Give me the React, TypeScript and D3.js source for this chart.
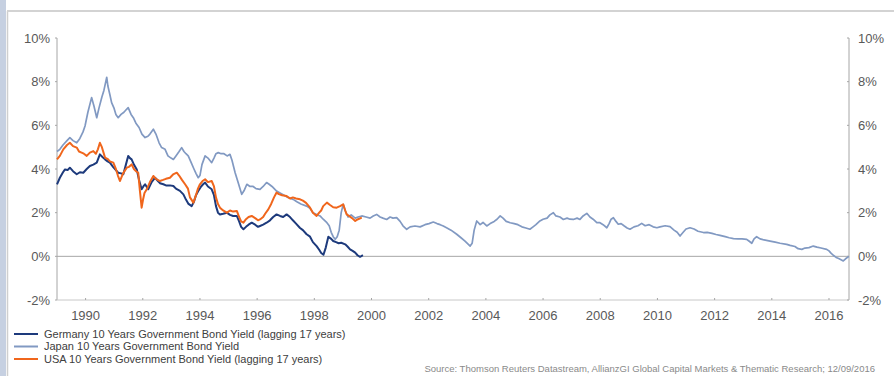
import React from "react";
import * as d3 from "d3";

// Decimal-year / yield (%) pairs for each series
const japanYield: [number, number][] = [
  [1989.0, 4.8], [1989.1, 4.9], [1989.21, 5.1], [1989.35, 5.3], [1989.45, 5.44], [1989.56, 5.3],
  [1989.69, 5.2], [1989.8, 5.4], [1989.91, 5.7], [1989.98, 5.97], [1990.08, 6.6], [1990.21, 7.27],
  [1990.29, 6.9], [1990.39, 6.35], [1990.47, 6.8], [1990.57, 7.3], [1990.64, 7.6], [1990.74, 8.2],
  [1990.78, 7.8], [1990.85, 7.4], [1990.91, 7.04], [1990.99, 6.8], [1991.06, 6.5], [1991.14, 6.35],
  [1991.24, 6.5], [1991.34, 6.6], [1991.41, 6.7], [1991.49, 6.81], [1991.59, 6.5], [1991.67, 6.35],
  [1991.76, 6.1], [1991.87, 5.9], [1991.97, 5.6], [1992.08, 5.44], [1992.18, 5.5], [1992.25, 5.6],
  [1992.37, 5.82], [1992.46, 5.6], [1992.57, 5.2], [1992.66, 4.98], [1992.78, 4.9], [1992.88, 4.6],
  [1992.99, 4.5], [1993.07, 4.44], [1993.16, 4.6], [1993.27, 4.8], [1993.36, 4.98], [1993.44, 4.8],
  [1993.51, 4.7], [1993.59, 4.6], [1993.69, 4.3], [1993.79, 4.0], [1993.86, 3.8], [1993.94, 3.6],
  [1994.0, 3.7], [1994.07, 4.2], [1994.18, 4.6], [1994.28, 4.5], [1994.41, 4.29], [1994.49, 4.5],
  [1994.56, 4.7], [1994.64, 4.75], [1994.74, 4.7], [1994.84, 4.7], [1994.95, 4.6], [1995.05, 4.67],
  [1995.12, 4.4], [1995.23, 3.83], [1995.33, 3.4], [1995.46, 2.84], [1995.54, 3.0], [1995.64, 3.3],
  [1995.75, 3.2], [1995.86, 3.2], [1995.96, 3.1], [1996.1, 3.07], [1996.21, 3.2], [1996.33, 3.38],
  [1996.42, 3.3], [1996.52, 3.2], [1996.68, 2.99], [1996.8, 2.9], [1996.94, 2.8], [1997.08, 2.7],
  [1997.26, 2.61], [1997.39, 2.5], [1997.53, 2.4], [1997.73, 2.3], [1997.85, 2.2], [1997.95, 2.0],
  [1998.08, 1.92], [1998.2, 1.85], [1998.31, 1.7], [1998.44, 1.54], [1998.52, 1.4], [1998.59, 1.1],
  [1998.66, 0.9], [1998.73, 0.78], [1998.8, 0.9], [1998.87, 1.2], [1998.94, 2.0], [1999.01, 2.38],
  [1999.08, 2.1], [1999.18, 1.8], [1999.29, 1.9], [1999.43, 1.75], [1999.53, 1.8], [1999.66, 1.85],
  [1999.81, 1.8], [1999.95, 1.75], [2000.06, 1.85], [2000.18, 1.92], [2000.3, 1.8], [2000.4, 1.75],
  [2000.53, 1.69], [2000.65, 1.8], [2000.75, 1.75], [2000.88, 1.77], [2001.0, 1.6], [2001.1, 1.4],
  [2001.23, 1.24], [2001.35, 1.35], [2001.52, 1.39], [2001.7, 1.35], [2001.87, 1.45], [2002.01, 1.5],
  [2002.16, 1.57], [2002.29, 1.5], [2002.4, 1.45], [2002.51, 1.39], [2002.64, 1.3], [2002.78, 1.2],
  [2002.98, 1.01], [2003.13, 0.85], [2003.27, 0.7], [2003.45, 0.47], [2003.52, 0.6], [2003.59, 1.2],
  [2003.68, 1.62], [2003.8, 1.45], [2003.9, 1.55], [2004.03, 1.39], [2004.15, 1.5], [2004.29, 1.6],
  [2004.39, 1.7], [2004.5, 1.85], [2004.6, 1.75], [2004.71, 1.6], [2004.85, 1.54], [2004.99, 1.5],
  [2005.12, 1.45], [2005.26, 1.35], [2005.4, 1.3], [2005.54, 1.24], [2005.65, 1.35], [2005.75, 1.45],
  [2005.89, 1.62], [2006.0, 1.7], [2006.14, 1.75], [2006.24, 1.9], [2006.36, 2.0], [2006.45, 1.85],
  [2006.59, 1.8], [2006.71, 1.69], [2006.84, 1.75], [2006.94, 1.7], [2007.06, 1.69], [2007.19, 1.75],
  [2007.29, 1.69], [2007.4, 1.85], [2007.53, 1.97], [2007.64, 1.8], [2007.75, 1.7], [2007.88, 1.54],
  [2007.99, 1.54], [2008.1, 1.45], [2008.23, 1.31], [2008.31, 1.5], [2008.38, 1.7], [2008.46, 1.77],
  [2008.55, 1.6], [2008.63, 1.47], [2008.73, 1.5], [2008.83, 1.4], [2008.94, 1.3], [2009.04, 1.24],
  [2009.18, 1.35], [2009.32, 1.4], [2009.45, 1.51], [2009.57, 1.4], [2009.71, 1.45], [2009.85, 1.35],
  [2009.98, 1.31], [2010.09, 1.35], [2010.27, 1.4], [2010.44, 1.36], [2010.58, 1.2], [2010.69, 1.1],
  [2010.79, 0.93], [2010.9, 1.1], [2011.0, 1.25], [2011.14, 1.31], [2011.28, 1.25], [2011.42, 1.15],
  [2011.61, 1.09], [2011.74, 1.1], [2011.91, 1.05], [2012.05, 1.0], [2012.19, 0.96], [2012.37, 0.9],
  [2012.51, 0.85], [2012.66, 0.81], [2012.82, 0.8], [2012.96, 0.8], [2013.12, 0.78], [2013.2, 0.7],
  [2013.3, 0.6], [2013.38, 0.8], [2013.47, 0.9], [2013.59, 0.8], [2013.73, 0.75], [2013.94, 0.7],
  [2014.12, 0.65], [2014.29, 0.6], [2014.52, 0.55], [2014.64, 0.5], [2014.81, 0.45], [2014.92, 0.35],
  [2015.05, 0.32], [2015.16, 0.38], [2015.3, 0.4], [2015.45, 0.47], [2015.58, 0.42], [2015.72, 0.38],
  [2015.92, 0.32], [2016.0, 0.25], [2016.07, 0.15], [2016.15, 0.05], [2016.25, -0.05], [2016.34, -0.1],
  [2016.5, -0.21], [2016.59, -0.1], [2016.7, 0.0],
];

const germanyLagged: [number, number][] = [
  [1989.0, 3.3], [1989.1, 3.6], [1989.21, 3.85], [1989.28, 3.98], [1989.37, 3.95], [1989.45, 4.06],
  [1989.56, 3.9], [1989.69, 3.76], [1989.8, 3.85], [1989.92, 3.83], [1990.04, 4.0], [1990.15, 4.14],
  [1990.27, 4.2], [1990.39, 4.29], [1990.45, 4.5], [1990.5, 4.67], [1990.59, 4.55], [1990.68, 4.44],
  [1990.77, 4.35], [1990.85, 4.29], [1990.96, 4.1], [1991.06, 3.95], [1991.14, 3.83], [1991.24, 3.8],
  [1991.32, 3.76], [1991.41, 4.2], [1991.49, 4.6], [1991.55, 4.5], [1991.61, 4.44], [1991.69, 4.2],
  [1991.79, 3.98], [1991.87, 3.5], [1991.96, 3.07], [1992.02, 3.2], [1992.08, 3.3], [1992.19, 3.07],
  [1992.31, 3.4], [1992.43, 3.6], [1992.53, 3.45], [1992.6, 3.35], [1992.72, 3.3], [1992.81, 3.25],
  [1992.95, 3.25], [1993.07, 3.22], [1993.16, 3.1], [1993.3, 3.0], [1993.42, 2.84], [1993.51, 2.6],
  [1993.6, 2.4], [1993.71, 2.3], [1993.79, 2.5], [1993.86, 2.8], [1993.94, 2.99], [1994.04, 3.2],
  [1994.11, 3.3], [1994.18, 3.38], [1994.28, 3.2], [1994.41, 3.07], [1994.49, 2.8], [1994.56, 2.3],
  [1994.63, 2.0], [1994.7, 1.92], [1994.81, 1.95], [1994.94, 2.0], [1995.05, 1.9], [1995.16, 1.85],
  [1995.29, 1.85], [1995.37, 1.6], [1995.44, 1.35], [1995.52, 1.24], [1995.61, 1.35], [1995.7, 1.45],
  [1995.81, 1.54], [1995.93, 1.45], [1996.03, 1.35], [1996.1, 1.39], [1996.21, 1.45], [1996.33, 1.54],
  [1996.45, 1.65], [1996.56, 1.8], [1996.68, 1.92], [1996.8, 1.85], [1996.91, 1.8], [1997.03, 1.92],
  [1997.15, 1.8], [1997.25, 1.65], [1997.36, 1.5], [1997.5, 1.3], [1997.6, 1.2], [1997.73, 1.01],
  [1997.85, 0.9], [1997.95, 0.65], [1998.08, 0.47], [1998.17, 0.3], [1998.24, 0.15], [1998.32, 0.07],
  [1998.4, 0.4], [1998.49, 0.9], [1998.59, 0.8], [1998.66, 0.7], [1998.76, 0.65], [1998.85, 0.6],
  [1998.94, 0.62], [1999.08, 0.55], [1999.16, 0.45], [1999.25, 0.32], [1999.34, 0.25], [1999.43, 0.17],
  [1999.51, 0.05], [1999.6, -0.02], [1999.7, 0.05],
];

const usaLagged: [number, number][] = [
  [1989.0, 4.44], [1989.1, 4.6], [1989.22, 4.9], [1989.35, 5.1], [1989.45, 5.2], [1989.56, 5.05],
  [1989.69, 4.98], [1989.77, 4.8], [1989.86, 4.75], [1989.94, 4.7], [1990.04, 4.6], [1990.15, 4.75],
  [1990.27, 4.82], [1990.36, 4.7], [1990.43, 4.9], [1990.5, 5.2], [1990.57, 5.0], [1990.68, 4.52],
  [1990.78, 4.45], [1990.85, 4.35], [1990.97, 4.29], [1991.06, 4.0], [1991.13, 3.7], [1991.2, 3.45],
  [1991.31, 3.8], [1991.44, 4.06], [1991.52, 4.1], [1991.61, 4.21], [1991.69, 4.0], [1991.76, 3.9],
  [1991.84, 3.83], [1991.9, 3.0], [1991.96, 2.23], [1992.01, 2.6], [1992.06, 2.9], [1992.14, 3.07],
  [1992.25, 3.4], [1992.37, 3.68], [1992.46, 3.55], [1992.6, 3.45], [1992.71, 3.5], [1992.81, 3.55],
  [1992.95, 3.6], [1993.06, 3.75], [1993.19, 3.83], [1993.27, 3.7], [1993.37, 3.5], [1993.48, 3.3],
  [1993.58, 3.1], [1993.65, 2.7], [1993.77, 2.46], [1993.86, 2.8], [1993.93, 3.1], [1994.0, 3.3],
  [1994.09, 3.45], [1994.18, 3.53], [1994.28, 3.4], [1994.41, 3.45], [1994.49, 3.2], [1994.56, 2.7],
  [1994.63, 2.4], [1994.7, 2.23], [1994.81, 2.1], [1994.94, 2.0], [1995.05, 2.1], [1995.16, 2.05],
  [1995.29, 2.08], [1995.37, 1.8], [1995.44, 1.6], [1995.52, 1.54], [1995.61, 1.7], [1995.7, 1.8],
  [1995.81, 1.85], [1995.93, 1.75], [1996.03, 1.65], [1996.1, 1.69], [1996.21, 1.8], [1996.28, 1.95],
  [1996.39, 2.15], [1996.49, 2.4], [1996.59, 2.7], [1996.68, 2.92], [1996.76, 2.85], [1996.87, 2.8],
  [1997.03, 2.76], [1997.15, 2.65], [1997.25, 2.7], [1997.36, 2.65], [1997.5, 2.61], [1997.6, 2.55],
  [1997.71, 2.45], [1997.85, 2.23], [1997.95, 2.0], [1998.08, 1.85], [1998.17, 2.0], [1998.24, 2.1],
  [1998.31, 2.3], [1998.44, 2.46], [1998.55, 2.35], [1998.66, 2.25], [1998.78, 2.23], [1998.9, 2.3],
  [1999.01, 2.38], [1999.08, 2.1], [1999.13, 1.92], [1999.21, 1.85], [1999.32, 1.75], [1999.43, 1.62],
  [1999.53, 1.7], [1999.66, 1.77],
];

const yearTicks = [1990, 1992, 1994, 1996, 1998, 2000, 2002, 2004, 2006, 2008, 2010, 2012, 2014, 2016];
const yieldTicks = [-2, 0, 2, 4, 6, 8, 10];

const legendLabels = [
  "Germany 10 Years Government Bond Yield (lagging 17 years)",
  "Japan 10 Years Government Bond Yield",
  "USA 10 Years Government Bond Yield (lagging 17 years)",
];
const sourceNote =
  "Source: Thomson Reuters Datastream, AllianzGI Global Capital Markets & Thematic Research; 12/09/2016";

const COLORS = { germany: "#1d3a7c", japan: "#8199c2", usa: "#f0661c" };
const AXIS = "#a6a6a6";
const TEXT = "#595959";
const FONT = "'Liberation Sans', Arial, sans-serif";

export default function App() {
  const W = 894;
  const H = 376;
  const left = 57;
  const right = 849;
  const top = 38;
  const bottom = 300;

  const x = d3.scaleLinear().domain([1989.0, 2016.7]).range([left, right]);
  const y = d3.scaleLinear().domain([-2, 10]).range([bottom, top]);

  const line = d3
    .line<[number, number]>()
    .x((d) => x(d[0]))
    .y((d) => y(d[1]))
    .curve(d3.curveLinear);

  const series = [
    { data: japanYield, color: COLORS.japan, width: 1.7 },
    { data: germanyLagged, color: COLORS.germany, width: 2 },
    { data: usaLagged, color: COLORS.usa, width: 2 },
  ];

  const legendColors = [COLORS.germany, COLORS.japan, COLORS.usa];

  return (
    <svg
      width={W}
      height={H}
      style={{ position: "absolute", left: 0, top: 0, background: "#fff" }}
      fontFamily={FONT}
    >
      {/* slide strip and frame */}
      <rect x={0} y={0} width={6} height={H} fill="#c6d0e1" />
      <line x1={7.5} y1={11} x2={7.5} y2={H} stroke="#cfcfcf" strokeWidth={1.5} />
      <line x1={7} y1={11} x2={W} y2={11} stroke="#d3d3d3" strokeWidth={2} />

      {/* axes */}
      <line x1={left} y1={top} x2={left} y2={bottom} stroke={AXIS} strokeWidth={1} />
      <line x1={right} y1={top} x2={right} y2={bottom} stroke={AXIS} strokeWidth={1} />
      <line x1={left} y1={bottom} x2={right} y2={bottom} stroke="#c8c8c8" strokeWidth={1} />
      <line x1={left} y1={y(0)} x2={right} y2={y(0)} stroke={AXIS} strokeWidth={1} />

      {yieldTicks.map((t) => (
        <g key={t}>
          <line x1={left - 2} x2={left} y1={y(t)} y2={y(t)} stroke={AXIS} />
          <line x1={right - 2} x2={right} y1={y(t)} y2={y(t)} stroke={AXIS} />
          <text x={left - 7} y={y(t)} dy="0.35em" textAnchor="end" fontSize={13} fill={TEXT}>
            {`${t}%`}
          </text>
          <text x={right + 9} y={y(t)} dy="0.35em" textAnchor="start" fontSize={13} fill={TEXT}>
            {`${t}%`}
          </text>
        </g>
      ))}

      {yearTicks.map((yr) => (
        <g key={yr}>
          <line x1={x(yr)} x2={x(yr)} y1={bottom - 2} y2={bottom} stroke={AXIS} />
          <text x={x(yr)} y={bottom + 20} textAnchor="middle" fontSize={13} fill={TEXT}>
            {yr}
          </text>
        </g>
      ))}

      {/* series */}
      {series.map((s, i) => (
        <path
          key={i}
          d={line(s.data) ?? ""}
          fill="none"
          stroke={s.color}
          strokeWidth={s.width}
          strokeLinejoin="round"
        />
      ))}

      {/* legend */}
      {legendLabels.map((label, i) => (
        <g key={label} transform={`translate(14, ${334 + i * 12.5})`}>
          <line x1={0} x2={24} y1={0} y2={0} stroke={legendColors[i]} strokeWidth={2} />
          <text x={30} y={0} dy="0.35em" fontSize={11} fill="#404040">
            {label}
          </text>
        </g>
      ))}

      <text x={875} y={372} textAnchor="end" fontSize={9.5} fill="#8a8a8a">
        {sourceNote}
      </text>
    </svg>
  );
}
